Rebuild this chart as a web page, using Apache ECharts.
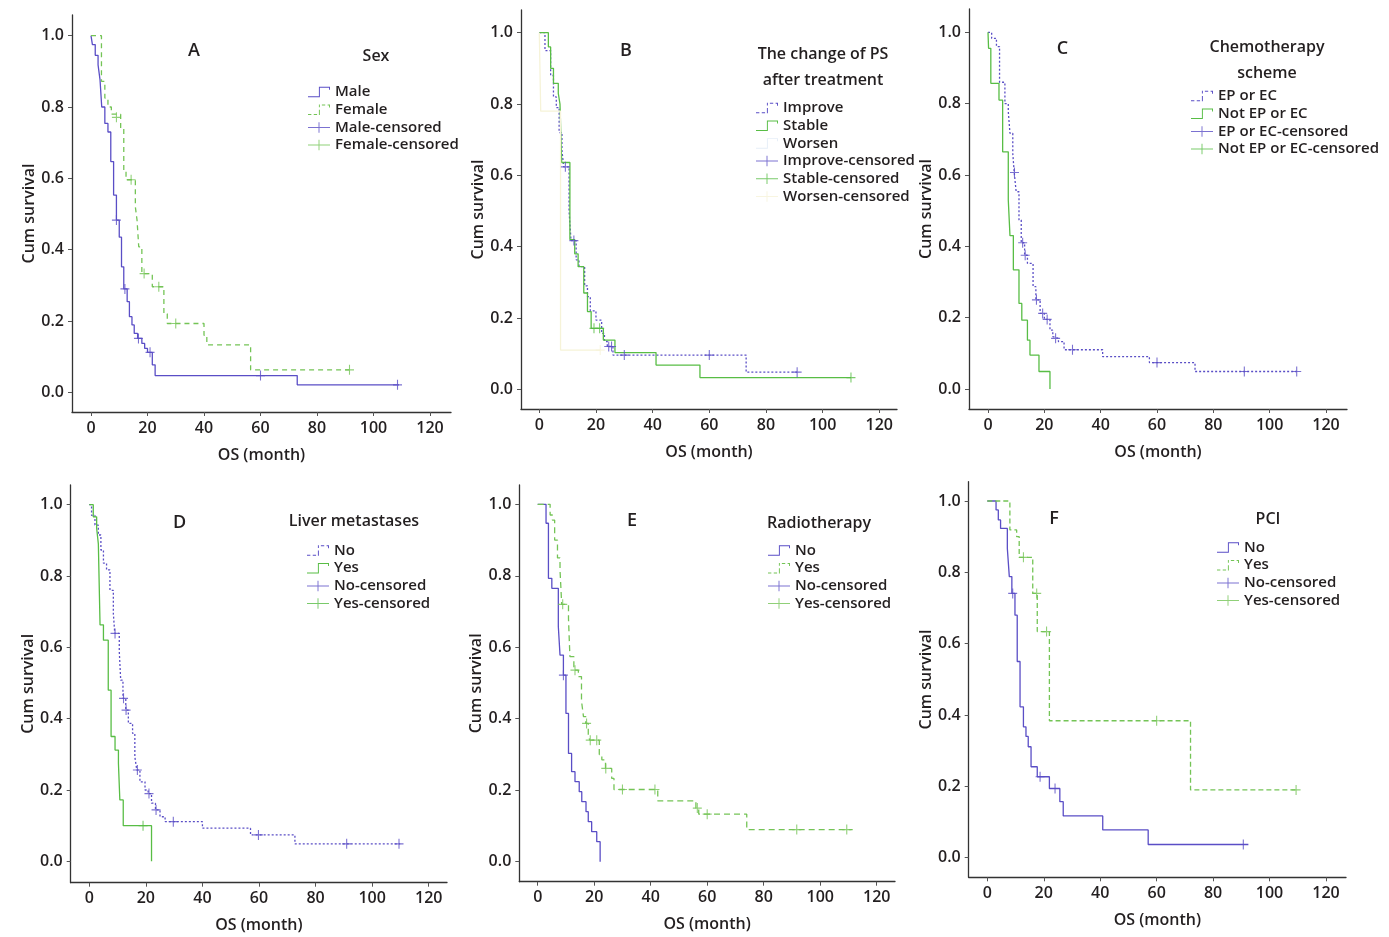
<!DOCTYPE html>
<html><head><meta charset="utf-8">
<script src="https://cdn.jsdelivr.net/npm/echarts@6/dist/echarts.min.js"></script>
<style>html,body{margin:0;padding:0;background:#fff}#c{width:1389px;height:937px}</style>
</head><body><div id="c"></div>
<script>
// ---------- tick labels ----------
const xTicks = [0, 20, 40, 60, 80, 100, 120];
const yTicks = [0, 0.2, 0.4, 0.6, 0.8, 1.0];
const panelLetters = ['A', 'B', 'C', 'D', 'E', 'F'];
const legendTitles = ['Sex', 'The change of PS\nafter treatment', 'Chemotherapy\nscheme', 'Liver metastases', 'Radiotherapy', 'PCI'];

// ---------- A: Sex ----------
const A_male = [[0,1],[0.5,0.975],[1.5,0.945],[2.5,0.918],[3.2,0.876],[3.8,0.80],[4.9,0.754],[6,0.73],[7,0.647],[8,0.553],[9,0.483],[10,0.435],[10.8,0.352],[11.6,0.29],[12.8,0.254],[13.6,0.212],[14.5,0.189],[15.3,0.165],[16.5,0.151],[18,0.137],[19,0.123],[20,0.112],[21.7,0.077],[22.7,0.047],[73,0.021],[109,0.021]];
const A_maleCens = [[9,0.483],[12,0.29],[16.8,0.151],[20.9,0.112],[60,0.047],[108.5,0.021]];
const A_female = [[0,1],[3.7,0.872],[4.9,0.825],[6,0.80],[7.2,0.78],[10.5,0.741],[11.6,0.62],[12.4,0.596],[15.7,0.52],[16.3,0.483],[16.9,0.408],[18,0.333],[21.7,0.296],[25.8,0.22],[27,0.193],[40,0.16],[41,0.133],[56.5,0.063],[91.5,0.063]];
const A_femaleCens = [[9,0.771],[14.2,0.596],[18.8,0.333],[24,0.296],[30,0.193],[91.5,0.063]];

// ---------- B: change of PS ----------
const B_improve = [[0,1],[2,0.95],[4,0.88],[5,0.82],[6,0.79],[7,0.72],[8,0.67],[8.6,0.624],[10.5,0.5],[11.2,0.417],[13,0.363],[14,0.344],[16,0.29],[17,0.26],[18,0.22],[20,0.194],[22,0.157],[23,0.134],[24,0.12],[26,0.096],[73,0.048],[91,0.048]];
const B_improveCens = [[9.2,0.624],[12.2,0.417],[24.5,0.12],[25.5,0.12],[30,0.096],[60,0.096],[91,0.048]];
const B_stable = [[0,1],[3.2,0.96],[4,0.9],[5,0.858],[6.7,0.83],[7.3,0.8],[7.9,0.636],[10.8,0.42],[12.5,0.38],[13.7,0.344],[15.7,0.27],[17,0.218],[18.3,0.171],[22.6,0.138],[26.7,0.103],[41.2,0.068],[56.7,0.033],[110,0.033]];
const B_stableCens = [[19.3,0.171],[21.3,0.171],[110,0.033]];
const B_worsen = [[0,1],[0.5,0.78],[7.5,0.11],[21.5,0.11]];
const B_worsenCens = [[21.5,0.11]];

// ---------- C: chemotherapy scheme ----------
const C_ep = [[0,1],[1.3,0.983],[3,0.96],[4.1,0.86],[6,0.80],[7.2,0.778],[7.8,0.717],[8.8,0.66],[9.3,0.607],[10,0.553],[11,0.474],[11.8,0.41],[13,0.375],[14,0.352],[16,0.287],[17,0.25],[18.5,0.212],[20,0.195],[22,0.165],[23,0.147],[23.5,0.142],[25,0.133],[27,0.11],[40.7,0.091],[57.3,0.074],[73.5,0.049],[109.6,0.049]];
const C_epCens = [[9.4,0.607],[12.3,0.41],[13.2,0.375],[17.2,0.25],[19.4,0.212],[21,0.195],[24,0.142],[30,0.11],[60,0.074],[91,0.049],[109.6,0.049]];
const C_notEp = [[0,1],[0.2,0.955],[1,0.857],[3.9,0.81],[5.2,0.665],[7.2,0.53],[7.8,0.43],[9,0.334],[11,0.24],[12,0.193],[14,0.137],[14.9,0.095],[18.1,0.049],[22,0]];
const C_notEpCens = [];

// ---------- D: liver metastases ----------
const D_no = [[0,1],[0.8,0.97],[2,0.943],[3.2,0.915],[4.1,0.873],[5,0.836],[6.1,0.817],[7.3,0.76],[8.5,0.695],[9,0.639],[10.6,0.588],[11.1,0.508],[11.9,0.457],[12.9,0.424],[13.8,0.387],[15.3,0.359],[16.1,0.293],[16.8,0.256],[17.9,0.223],[19.7,0.2],[20.8,0.19],[22,0.163],[23.4,0.144],[25,0.125],[26.8,0.111],[40,0.093],[57,0.074],[72.7,0.049],[109.9,0.049]];
const D_noCens = [[9.1,0.639],[12.1,0.457],[13,0.424],[17,0.256],[21.1,0.19],[23.6,0.144],[29.7,0.111],[59.8,0.074],[91,0.049],[109.5,0.049]];
const D_yes = [[0,1],[1.4,0.966],[2.6,0.934],[3.2,0.89],[3.8,0.663],[5,0.62],[6.7,0.48],[7.7,0.35],[9.1,0.312],[10.3,0.275],[10.8,0.172],[12,0.10],[22,0]];
const D_yesCens = [[19,0.10]];

// ---------- E: radiotherapy ----------
const E_no = [[0,1],[2.95,0.947],[3.8,0.793],[5,0.765],[7.3,0.658],[7.9,0.578],[9.1,0.522],[10,0.415],[10.9,0.303],[12,0.252],[13.2,0.224],[14.7,0.196],[15.6,0.168],[17.1,0.14],[17.9,0.112],[19.1,0.084],[20.9,0.056],[22.1,0]];
const E_noCens = [[9.1,0.522]];
const E_yes = [[0,1],[4.4,0.97],[5.2,0.956],[6,0.9],[7,0.85],[7.9,0.816],[8.5,0.72],[10.9,0.68],[11.4,0.574],[12.8,0.536],[14.4,0.518],[15.5,0.45],[16.2,0.406],[17,0.387],[17.9,0.35],[18.5,0.34],[21.8,0.3],[22.7,0.285],[24,0.261],[26.2,0.233],[27,0.202],[42.5,0.17],[56,0.15],[57,0.133],[74,0.09],[111.5,0.09]];
const E_yesCens = [[8.85,0.72],[13.2,0.536],[17.3,0.387],[18.6,0.34],[20.9,0.34],[24.1,0.261],[30,0.202],[41.5,0.202],[56.5,0.15],[60,0.133],[91.7,0.09],[109.4,0.09]];

// ---------- F: PCI ----------
const F_no = [[0,1],[3.1,0.975],[3.9,0.947],[4.7,0.923],[7.1,0.867],[7.8,0.788],[8.7,0.741],[9.8,0.68],[10.6,0.55],[11.6,0.423],[12.8,0.367],[13.7,0.34],[14.5,0.311],[15.5,0.255],[17.7,0.227],[22,0.194],[25.7,0.157],[26.9,0.117],[40.9,0.078],[57,0.037],[92.5,0.037]];
const F_noCens = [[9,0.741],[18.7,0.227],[24,0.194],[90.7,0.037]];
const F_yes = [[0,1],[8,0.919],[10.4,0.9],[11.3,0.842],[16.1,0.741],[17.7,0.634],[22,0.384],[72,0.19],[109.6,0.19]];
const F_yesCens = [[12.8,0.842],[17.5,0.741],[21,0.634],[60,0.384],[109.4,0.19]];

// ---------- styles ----------
const FONT = '"Open Sans", "Noto Sans", sans-serif';
const TXT = '#231f20';
const PURPLE = '#5a4ec6';
const GREEN = '#58bd45';
const GREEN2 = '#74c456';
const PALEBLUE = '#e6eef7';
const PALEYEL = '#f6f3d8';

const ICON_STEP = 'path://M0,10.4H11.4V0.4H23V3.6H22V1.4H12.4V11.4H0Z';
const ICON_DASH = 'path://M0,10.4h3.5v1h-3.5z M6,10.4h3.5v1h-3.5z M11.4,6h1v5.4h-1z M11.4,0.4h1v3h-1z M14.5,0.4h3.5v1h-3.5z M20.5,0.4h2.5v3.2h-1v-2.2h-1.5z';
const ICON_CENS = 'path://M0,5.4H23V6.4H0Z M11,0.4H12V11.4H11Z';
const CENS_SYMBOL = 'path://M0,4.4H10V5.6H0Z M4.4,0H5.6V10H4.4Z';

// panel geometry (pixels): axis-line extents and tick positions
const layout = [
  {left:72,   right:451,  top:15,    bottom:412,   x0:91,    x120:430,   y1:35.7,  y0:392.3, lgL:308,  lgT:84.5},
  {left:521,  right:897,  top:10,    bottom:409,   x0:539.3, x120:879.3, y1:32.7,  y0:389.3, lgL:756,  lgT:100.5},
  {left:969,  right:1347, top:9,     bottom:409,   x0:988,   x120:1326,  y1:32.3,  y0:389,   lgL:1191, lgT:88.5},
  {left:70.7, right:447,  top:485,   bottom:882.7, x0:89.3,  x120:428.7, y1:504.7, y0:861.3, lgL:307,  lgT:543},
  {left:519.3,right:895,  top:485,   bottom:881.7, x0:537.7, x120:876.7, y1:504.3, y0:861.7, lgL:768,  lgT:543},
  {left:968.7,right:1346, top:481.7, bottom:877.3, x0:987.3, x120:1326,  y1:501,   y0:857.7, lgL:1217, lgT:540}
];
const titlePos = [
  {lx:194, ly:51, tx:376, ty:56},
  {lx:626, ly:51, tx:823, ty:67.5},
  {lx:1062.5, ly:49, tx:1267, ty:60},
  {lx:179.5, ly:523, tx:354, ty:521},
  {lx:632, ly:521, tx:819, ty:523},
  {lx:1054, ly:519, tx:1268, ty:519}
];

// series definitions per panel: [name, data, kind, color, dash, icon]
const panels = [
  [['Male',A_male,'line',PURPLE,'solid',ICON_STEP],['Female',A_female,'line',GREEN2,[5,4],ICON_DASH],
   ['Male-censored',A_maleCens,'cens',PURPLE,null,ICON_CENS],['Female-censored',A_femaleCens,'cens',GREEN2,null,ICON_CENS]],
  [['Improve',B_improve,'line',PURPLE,[2,2],ICON_DASH],['Stable',B_stable,'line',GREEN,'solid',ICON_STEP],['Worsen',B_worsen,'line',PALEYEL,'solid',ICON_STEP],
   ['Improve-censored',B_improveCens,'cens',PURPLE,null,ICON_CENS],['Stable-censored',B_stableCens,'cens',GREEN,null,ICON_CENS],['Worsen-censored',B_worsenCens,'cens',PALEYEL,null,ICON_CENS]],
  [['EP or EC',C_ep,'line',PURPLE,[2,2],ICON_DASH],['Not EP or EC',C_notEp,'line',GREEN,'solid',ICON_STEP],
   ['EP or EC-censored',C_epCens,'cens',PURPLE,null,ICON_CENS],['Not EP or EC-censored',C_notEpCens,'cens',GREEN,null,ICON_CENS]],
  [['No',D_no,'line',PURPLE,[2,2],ICON_DASH],['Yes',D_yes,'line',GREEN,'solid',ICON_STEP],
   ['No-censored',D_noCens,'cens',PURPLE,null,ICON_CENS],['Yes-censored',D_yesCens,'cens',GREEN,null,ICON_CENS]],
  [['No',E_no,'line',PURPLE,'solid',ICON_STEP],['Yes',E_yes,'line',GREEN2,[6,4],ICON_DASH],
   ['No-censored',E_noCens,'cens',PURPLE,null,ICON_CENS],['Yes-censored',E_yesCens,'cens',GREEN2,null,ICON_CENS]],
  [['No',F_no,'line',PURPLE,'solid',ICON_STEP],['Yes',F_yes,'line',GREEN2,[5,3],ICON_DASH],
   ['No-censored',F_noCens,'cens',PURPLE,null,ICON_CENS],['Yes-censored',F_yesCens,'cens',GREEN2,null,ICON_CENS]]
];

const grid = [], xAxis = [], yAxis = [], series = [], legend = [], graphic = [];

layout.forEach((g, i) => {
  const xpu = (g.x120 - g.x0) / 120;
  const ypu = g.y0 - g.y1;
  grid.push({left: g.left, top: g.top, width: g.right - g.left, height: g.bottom - g.top, containLabel: false});
  xAxis.push({
    gridIndex: i, type: 'value',
    min: -(g.x0 - g.left) / xpu, max: 120 + (g.right - g.x120) / xpu,
    axisLine: {show: true, onZero: false, lineStyle: {color: '#333', width: 1.3}},
    axisTick: {show: true, customValues: xTicks, length: 4, lineStyle: {color: '#555'}},
    axisLabel: {customValues: xTicks, fontSize: 16, fontWeight: 600, color: TXT, margin: 8, fontFamily: FONT},
    splitLine: {show: false},
    name: 'OS (month)', nameLocation: 'middle', nameGap: 35,
    nameTextStyle: {fontSize: 16, fontWeight: 600, color: TXT, fontFamily: FONT}
  });
  yAxis.push({
    gridIndex: i, type: 'value',
    min: -(g.bottom - g.y0) / ypu, max: 1 + (g.y1 - g.top) / ypu,
    axisLine: {show: true, onZero: false, lineStyle: {color: '#333', width: 1.3}},
    axisTick: {show: true, customValues: yTicks, length: 4, lineStyle: {color: '#555'}},
    axisLabel: {customValues: yTicks, fontSize: 16, fontWeight: 600, color: TXT, margin: 8, fontFamily: FONT,
                formatter: v => v.toFixed(1)},
    splitLine: {show: false},
    name: 'Cum survival', nameLocation: 'middle', nameGap: 33,
    nameTextStyle: {fontSize: 16, fontWeight: 600, color: TXT, fontFamily: FONT}
  });

  const items = [];
  panels[i].forEach(([name, data, kind, color, dash, icon]) => {
    const sname = panelLetters[i] + '|' + name;
    if (kind === 'line') {
      series.push({name: sname, type: 'line', xAxisIndex: i, yAxisIndex: i, data: data, step: 'end',
        symbol: 'none', lineStyle: {color: color, width: 1.3, type: dash}, itemStyle: {color: color},
        z: 2, silent: true});
    } else {
      series.push({name: sname, type: 'scatter', xAxisIndex: i, yAxisIndex: i, data: data,
        symbol: CENS_SYMBOL, symbolSize: [9, 10], itemStyle: {color: color}, z: 3, silent: true});
    }
    let icol = color;
    if (i === 1 && name === 'Worsen') icol = PALEBLUE;
    items.push({name: sname, icon: icon, itemStyle: {color: icol, borderWidth: 0}});
  });
  legend.push({
    data: items, orient: 'vertical', left: g.lgL, top: g.lgT - 0.5, padding: 0,
    itemWidth: 22, itemHeight: 12, itemGap: 1.7, selectedMode: false,
    formatter: n => n.split('|')[1],
    textStyle: {fontSize: 15, fontWeight: 600, color: TXT, fontFamily: FONT, lineHeight: 16},
    itemStyle: {borderWidth: 0}
  });

  const t = titlePos[i];
  graphic.push({type: 'text', x: t.lx, y: t.ly, style: {text: panelLetters[i], align: 'center', verticalAlign: 'middle',
    font: '600 18px ' + FONT, fill: TXT}});
  graphic.push({type: 'text', x: t.tx, y: t.ty, style: {text: legendTitles[i], align: 'center', verticalAlign: 'middle',
    font: '600 16px ' + FONT, fill: TXT, lineHeight: 26}});
});

const chart = echarts.init(document.getElementById('c'), null, {renderer: 'canvas'});
chart.setOption({
  animation: false,
  backgroundColor: '#fff',
  grid, xAxis, yAxis, series, legend, graphic,
  tooltip: {show: false}
});
</script></body></html>
